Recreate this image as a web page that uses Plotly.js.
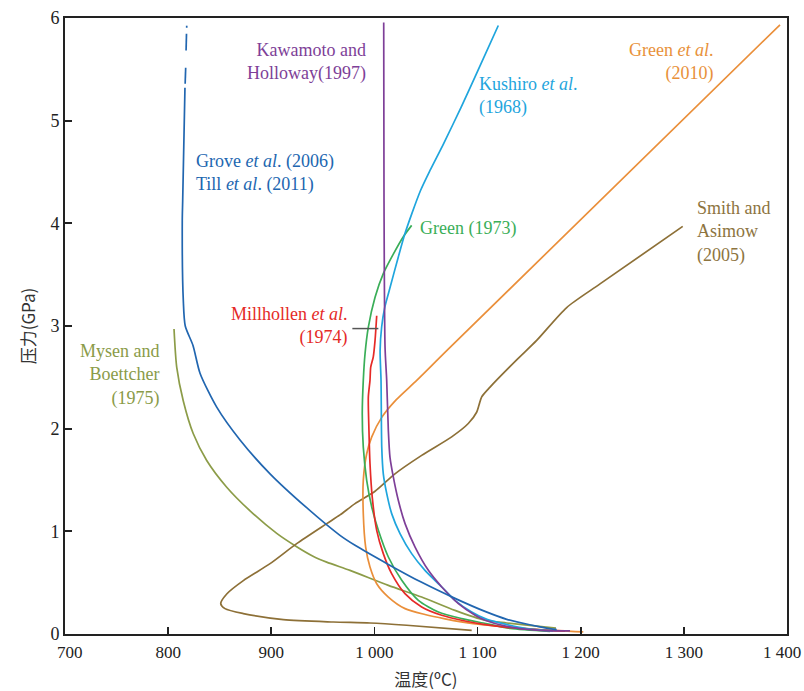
<!DOCTYPE html>
<html>
<head>
<meta charset="utf-8">
<script src="https://cdn.plot.ly/plotly-3.0.1.min.js"></script>
<style>html,body{margin:0;padding:0;background:#fff;}#chart{width:804px;height:691px;}</style>
</head>
<body>
<div id="chart"></div>
<script>
// ---- Data (temperature in °C, pressure in GPa) ----
const groveT = [816.3, 814.1, 813.7, 814.7, 816.6, 824.1, 830.9, 847.1, 869.7, 898.8, 934.3, 966.6, 981.2, 1013.5, 1045.8, 1078.1, 1107.2, 1128.3, 1160.5, 1176.7];
const groveP = [5.32, 4.22, 4.03, 3.25, 3.00, 2.81, 2.54, 2.21, 1.89, 1.56, 1.23, 0.961, 0.864, 0.678, 0.503, 0.347, 0.22, 0.143, 0.07, 0.043];
const groveDashT = [818.0, 818.0, null, 817.8, 817.4, null, 817.0, 816.5];
const groveDashP = [5.925, 5.905, null, 5.846, 5.683, null, 5.515, 5.36];

const kawT = [1009, 1009.3, 1010.3, 1011.9, 1013.5, 1015.1, 1018.3, 1023.2, 1029.7, 1039.4, 1052.3, 1065.3, 1081.4, 1097.6, 1107.3, 1128.3, 1160.5, 1189.6];
const kawP = [5.955, 4.22, 2.79, 2.47, 1.98, 1.72, 1.53, 1.30, 1.075, 0.847, 0.62, 0.458, 0.296, 0.183, 0.134, 0.075, 0.036, 0.03];

const kushT = [1120.1, 1100.4, 1084.0, 1067.0, 1053.9, 1044.7, 1036.1, 1029.6, 1023.1, 1014.5, 1010, 1007, 1005.5, 1006.4, 1007.1, 1008.6, 1011.9, 1016.8, 1024.8, 1036.1, 1049, 1065.3, 1078.1, 1094.3, 1107.3, 1121.7, 1147.6, 1173.1];
const kushP = [5.927, 5.49, 5.13, 4.775, 4.515, 4.32, 4.09, 3.90, 3.67, 3.35, 3.18, 2.99, 2.76, 2.47, 1.82, 1.56, 1.37, 1.17, 0.978, 0.783, 0.62, 0.458, 0.328, 0.214, 0.15, 0.108, 0.053, 0.03];

const green73T = [1036.1, 1028, 1018.3, 1008.6, 1000.6, 994.1, 990.9, 989.2, 988.2, 989.2, 992.5, 997.4, 1003.8, 1013.5, 1026.5, 1042.6, 1062, 1084.6, 1105.6, 1131.5, 1170.2];
const green73P = [3.98, 3.87, 3.70, 3.51, 3.28, 2.99, 2.73, 2.47, 2.146, 1.82, 1.497, 1.237, 1.01, 0.75, 0.523, 0.328, 0.214, 0.15, 0.107, 0.055, 0.026];

const millT = [1002.2, 1000.6, 998.9, 996.4, 995.7, 994.1, 994.7, 995.7, 997.9, 1002.2, 1008.6, 1016.7, 1029.6, 1045.8, 1065.2, 1087.8, 1105.6, 1128.3, 1160.5, 1184.8];
const millP = [3.10, 2.86, 2.70, 2.60, 2.47, 2.31, 1.98, 1.66, 1.33, 1.01, 0.783, 0.588, 0.393, 0.263, 0.182, 0.127, 0.094, 0.065, 0.041, 0.031];

const green10T = [1393.2, 1070.1, 1041, 1021, 1007.1, 997.4, 992.5, 989.2, 989.2, 991.5, 995.7, 1002.2, 1013.5, 1029.7, 1049, 1068.4, 1095.9, 1128.3, 1160.5, 1202.5];
const green10P = [5.934, 2.76, 2.47, 2.28, 2.11, 1.92, 1.756, 1.496, 1.172, 0.847, 0.652, 0.49, 0.36, 0.247, 0.19, 0.148, 0.10, 0.068, 0.043, 0.02];

const smithT = [1298.9, 1218.7, 1186.4, 1157.3, 1137.9, 1112.1, 1104, 1101.4, 1099.1, 1091, 1074.9, 1045.8, 1019.9, 1000.6, 981.2, 966.6, 953.7, 924.6, 898.8, 872.9, 856.8, 851, 855.1, 872.9, 911.7, 960.1, 995.7, 1031.3, 1094.3];
const smithP = [3.97, 3.41, 3.18, 2.86, 2.67, 2.405, 2.31, 2.23, 2.16, 2.05, 1.92, 1.74, 1.56, 1.39, 1.27, 1.16, 1.075, 0.88, 0.685, 0.52, 0.39, 0.296, 0.247, 0.199, 0.14, 0.117, 0.107, 0.085, 0.036];

const mysenT = [805.7, 808.3, 814.7, 824.4, 837.4, 856.8, 879.4, 905.3, 924.6, 940, 953.7, 976.3, 1013.5, 1045.8, 1078.1, 1107.2, 1128.3, 1176];
const mysenP = [2.97, 2.60, 2.27, 1.95, 1.69, 1.43, 1.20, 0.98, 0.85, 0.76, 0.70, 0.62, 0.474, 0.36, 0.23, 0.134, 0.107, 0.058];

const leaderT = [978.6, 1003.8];
const leaderP = [2.975, 2.975];

// ---- Axis ticks ----
const xTickVals = [700, 800, 900, 1000, 1100, 1200, 1300, 1400];
const xTickLabels = ["700", "800", "900", "1 000", "1 100", "1 200", "1 300", "1 400"];
const yTickVals = [0, 1, 2, 3, 4, 5, 6];

// ---- Labels ----
const labelText = [
  "Kawamoto and<br>Holloway(1997)",
  "Grove <i>et al</i>. (2006)<br>Till <i>et al</i>. (2011)",
  "Kushiro <i>et al</i>.<br>(1968)",
  "Green <i>et al</i>.<br>(2010)",
  "Green (1973)",
  "Smith and<br>Asimow<br>(2005)",
  "Millhollen <i>et al</i>.<br>(1974)",
  "Mysen and<br>Boettcher<br>(1975)"
];
const labelT = [993.8, 825.1, 1099.7, 1330.2, 1042.5, 1310.8, 976.3, 794];
const labelP = [5.576, 4.49, 5.245, 5.571, 3.95, 3.916, 3.0, 2.526];
const labelAnchor = ["right", "left", "left", "right", "left", "left", "right", "right"];
const labelColor = ["#7e3f98", "#2166b0", "#1fa5dd", "#e8913a", "#3aae58", "#8d7440", "#e52a27", "#8a9b48"];

const C = {
  grove: "#2166b0", kaw: "#7e3f98", kush: "#1fa5dd", g73: "#3aae58",
  mill: "#e52a27", g10: "#ea8f3a", smith: "#8d7037", mysen: "#8c9c48"
};

const SERIF = "'Liberation Serif', 'Times New Roman', 'DejaVu Serif', serif";

function tr(x, y, color, extra) {
  return Object.assign({
    x: x, y: y, type: "scatter", mode: "lines",
    line: {color: color, width: 1.7, shape: "spline", smoothing: 0.7},
    hoverinfo: "skip", showlegend: false
  }, extra || {});
}

const traces = [
  tr(mysenT, mysenP, C.mysen),
  tr(smithT, smithP, C.smith),
  tr(green10T, green10P, C.g10),
  tr(green73T, green73P, C.g73),
  tr(millT, millP, C.mill),
  tr(kushT, kushP, C.kush),
  tr(kawT, kawP, C.kaw),
  tr(groveT, groveP, C.grove),
  tr(groveDashT, groveDashP, C.grove, {connectgaps: false, line: {color: C.grove, width: 1.7}}),
  tr(leaderT, leaderP, "#555555", {line: {color: "#555555", width: 1.5}})
];

// The two end tick labels are placed just inside their ticks (as in the original figure)
const n = xTickLabels.length;
const xTickText = xTickLabels.map((t, i) => (i === 0 || i === n - 1) ? "" : t);

const annotations = labelText.map((t, i) => ({
  x: labelT[i], y: labelP[i], xref: "x", yref: "y",
  text: t, showarrow: false,
  xanchor: labelAnchor[i], yanchor: "middle", align: labelAnchor[i],
  font: {family: SERIF, size: 18, color: labelColor[i]}
}));
annotations.push({
  x: xTickVals[0], y: 0, xref: "x", yref: "y", text: xTickLabels[0], showarrow: false,
  xanchor: "center", yanchor: "middle", xshift: 5, yshift: -18,
  font: {family: SERIF, size: 17, color: "#222"}
});
annotations.push({
  x: xTickVals[n - 1], y: 0, xref: "x", yref: "y", text: xTickLabels[n - 1], showarrow: false,
  xanchor: "right", yanchor: "middle", xshift: 16, yshift: -18,
  font: {family: SERIF, size: 17, color: "#222"}
});

const layout = {
  width: 804, height: 691,
  margin: {l: 65, r: 17, t: 18, b: 57},
  paper_bgcolor: "#ffffff", plot_bgcolor: "#ffffff",
  font: {family: SERIF, size: 18, color: "#222"},
  xaxis: {
    range: [700, 1400], tickvals: xTickVals, ticktext: xTickText,
    ticks: "inside", ticklen: 7, tickwidth: 1.8, tickcolor: "#222",
    ticklabelstandoff: 2,
    tickfont: {family: SERIF, size: 17, color: "#222"},
    showline: true, linecolor: "#222", linewidth: 2, mirror: true,
    showgrid: false, zeroline: false,
    title: {text: "温度(ºC)", font: {family: "'Noto Sans CJK SC', serif", size: 17, color: "#333"}, standoff: 14}
  },
  yaxis: {
    range: [0, 6], tickvals: yTickVals,
    ticks: "inside", ticklen: 7, tickwidth: 1.8, tickcolor: "#222",
    tickfont: {family: SERIF, size: 18, color: "#222"},
    showline: true, linecolor: "#222", linewidth: 2, mirror: true,
    showgrid: false, zeroline: false,
    title: {text: "压力(GPa)", font: {family: "'Noto Sans CJK SC', serif", size: 17, color: "#333"}, standoff: 10}
  },
  annotations: annotations
};

Plotly.newPlot("chart", traces, layout, {displayModeBar: false, staticPlot: true});
</script>
</body>
</html>
